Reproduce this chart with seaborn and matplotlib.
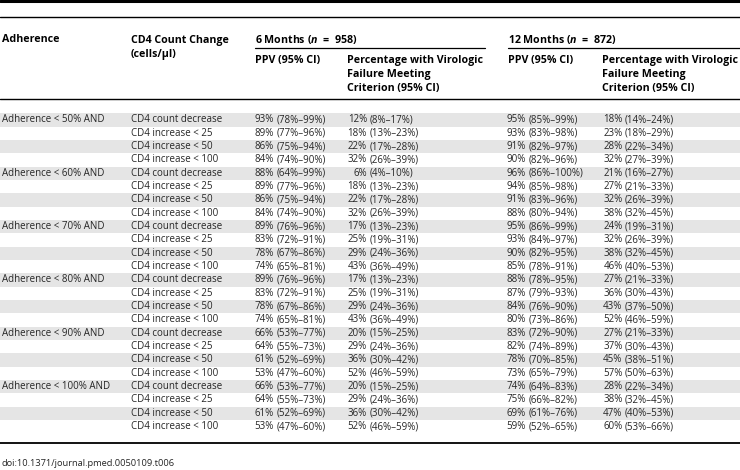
import pandas as pd
import matplotlib
matplotlib.use("Agg")
import matplotlib.pyplot as plt
import seaborn as sns

# table contents
adherence = ["Adherence < 50% AND", "Adherence < 60% AND", "Adherence < 70% AND",
             "Adherence < 80% AND", "Adherence < 90% AND", "Adherence < 100% AND"]
cd4_change = ["CD4 count decrease", "CD4 increase < 25", "CD4 increase < 50", "CD4 increase < 100"]

ppv_6 = ["93% (78%–99%)", "89% (77%–96%)", "86% (75%–94%)", "84% (74%–90%)",
         "88% (64%–99%)", "89% (77%–96%)", "86% (75%–94%)", "84% (74%–90%)",
         "89% (76%–96%)", "83% (72%–91%)", "78% (67%–86%)", "74% (65%–81%)",
         "89% (76%–96%)", "83% (72%–91%)", "78% (67%–86%)", "74% (65%–81%)",
         "66% (53%–77%)", "64% (55%–73%)", "61% (52%–69%)", "53% (47%–60%)",
         "66% (53%–77%)", "64% (55%–73%)", "61% (52%–69%)", "53% (47%–60%)"]
pct_6 = ["12% (8%–17%)", "18% (13%–23%)", "22% (17%–28%)", "32% (26%–39%)",
         "6% (4%–10%)", "18% (13%–23%)", "22% (17%–28%)", "32% (26%–39%)",
         "17% (13%–23%)", "25% (19%–31%)", "29% (24%–36%)", "43% (36%–49%)",
         "17% (13%–23%)", "25% (19%–31%)", "29% (24%–36%)", "43% (36%–49%)",
         "20% (15%–25%)", "29% (24%–36%)", "36% (30%–42%)", "52% (46%–59%)",
         "20% (15%–25%)", "29% (24%–36%)", "36% (30%–42%)", "52% (46%–59%)"]
ppv_12 = ["95% (85%–99%)", "93% (83%–98%)", "91% (82%–97%)", "90% (82%–96%)",
          "96% (86%–100%)", "94% (85%–98%)", "91% (83%–96%)", "88% (80%–94%)",
          "95% (86%–99%)", "93% (84%–97%)", "90% (82%–95%)", "85% (78%–91%)",
          "88% (78%–95%)", "87% (79%–93%)", "84% (76%–90%)", "80% (73%–86%)",
          "83% (72%–90%)", "82% (74%–89%)", "78% (70%–85%)", "73% (65%–79%)",
          "74% (64%–83%)", "75% (66%–82%)", "69% (61%–76%)", "59% (52%–65%)"]
pct_12 = ["18% (14%–24%)", "23% (18%–29%)", "28% (22%–34%)", "32% (27%–39%)",
          "21% (16%–27%)", "27% (21%–33%)", "32% (26%–39%)", "38% (32%–45%)",
          "24% (19%–31%)", "32% (26%–39%)", "38% (32%–45%)", "46% (40%–53%)",
          "27% (21%–33%)", "36% (30%–43%)", "43% (37%–50%)", "52% (46%–59%)",
          "27% (21%–33%)", "37% (30%–43%)", "45% (38%–51%)", "57% (50%–63%)",
          "28% (22%–34%)", "38% (32%–45%)", "47% (40%–53%)", "60% (53%–66%)"]

sns.set_theme(style="white")
plt.rcParams['font.family'] = ['Open Sans', 'DejaVu Sans']
plt.rcParams['mathtext.fontset'] = 'custom'
plt.rcParams['mathtext.it'] = 'Open Sans:italic:bold'
plt.rcParams['mathtext.rm'] = 'Open Sans:bold'

data = pd.DataFrame({
    'adh': [a if j == 0 else "" for a in adherence for j in range(len(cd4_change))],
    'cd4': cd4_change * len(adherence),
    'ppv6': ppv_6, 'pct6': pct_6, 'ppv12': ppv_12, 'pct12': pct_12,
})

fs = 7.0
hfs = 7.65
fig = plt.figure(figsize=(7.4, 4.7), dpi=100)
ax = fig.add_axes([0, 0, 1, 1])
ax.set_xlim(0, 740)
ax.set_ylim(470, 0)
ax.axis('off')

# rules
ax.axhline(1, color='black', lw=2.2)
ax.axhline(17, color='black', lw=1.0)
ax.axhline(99, color='black', lw=1.0)
ax.axhline(443, color='black', lw=1.3)
ax.plot([255, 485], [47.5, 47.5], color='black', lw=0.9)
ax.plot([508, 740], [47.5, 47.5], color='black', lw=0.9)

# header
hd = dict(fontsize=hfs, fontweight='bold', va='center', ha='left', color='black')
ax.text(2, 40, "Adherence", **hd)
ax.text(131, 40, "CD4 Count Change", **hd)
ax.text(131, 54, "(cells/µl)", **hd)
ax.text(255, 40, "6 Months ($n$  =  958)", **hd)
ax.text(508, 40, "12 Months ($n$  =  872)", **hd)
for x in (255, 508):
    ax.text(x, 60, "PPV (95% CI)", **hd)
for x in (347, 602):
    ax.text(x, 60, "Percentage with Virologic", **hd)
    ax.text(x, 74.3, "Failure Meeting", **hd)
    ax.text(x, 88.5, "Criterion (95% CI)", **hd)

# body
y0, dy = 120, 13.33
cols = [('ppv6', 254), ('pct6', 347), ('ppv12', 506), ('pct12', 602.5)]
for i, row in data.iterrows():
    y = y0 + i * dy
    if i % 2 == 0:
        ax.axhspan(y - dy / 2, y + dy / 2, color='#e5e5e5', lw=0, zorder=0)
    ax.text(2, y, row['adh'], fontsize=fs, va='center', ha='left')
    ax.text(131, y, row['cd4'], fontsize=fs, va='center', ha='left')
    for key, x in cols:
        est, ci = row[key].split(" ", 1)
        ax.text(x + 20, y, est, fontsize=fs, va='center', ha='right')
        ax.text(x + 22.5, y, ci, fontsize=fs, va='center', ha='left')

ax.text(2, 463, "doi:10.1371/journal.pmed.0050109.t006", fontsize=fs - 0.3, va='center', ha='left')

fig.savefig("out.png", dpi=100)
